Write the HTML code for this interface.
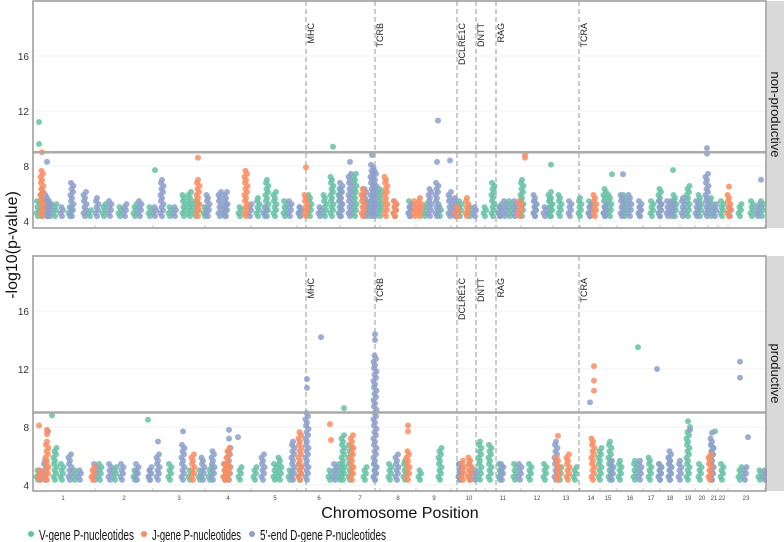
<!DOCTYPE html>
<html><head><meta charset="utf-8"><style>
body{margin:0;background:#fff}
svg{display:block;font-family:"Liberation Sans",sans-serif}
</style></head><body>
<svg id="c" width="784" height="542"></svg>
<script>
// data: positions (0..730 genome units), values -log10(p)
const chromNames=["1","2","3","4","5","6","7","8","9","10","11","12","13","14","15","16","17","18","19","20","21","22","23"];
const chromCenters=[28,89,144,193,240,284,325,363,399,434,468,502,531,556,573,595,616,635,653,667,679,687,711];
const chromBounds=[60,118,170,216,262,305,345,381,416,450,486,518,545,565,582,608,625,645,660,673,683,693,730];
const geneNames=["MHC","TCRB","DCLRE1C","DNTT","RAG","TCRA"];
const genePos=[271,340,422,441,461,544];
const yTicks=[4,8,12,16];
const threshold=9;
// top panel (non-productive): columns [pos, top] and isolated [pos, value]
const topGreenCols=[[3,5.5],[7,6.5],[13,5.5],[20,5.3],[35,5],[55,4.9],[69,5.3],[85,5],[100,5.4],[115,5.2],[135,5.1],[149,5.9],[155,6.1],[161,5.5],[170,5],[190,5.3],[205,5],[223,5.8],[232,7],[240,6.2],[250,5.5],[265,5.2],[275,6],[290,6],[297,7.2],[305,6.5],[320,7.6],[333,5.5],[345,6.5],[360,5.2],[375,5.5],[390,5.3],[405,5],[425,5.5],[435,5.2],[450,5],[458,6.8],[465,5.4],[475,5.6],[487,7],[500,5.5],[515,6.3],[516,5.8],[525,6],[545,5.8],[555,5.5],[570,6.5],[575,6],[590,6],[605,5.2],[617,5.5],[625,6.4],[640,6],[653,6.6],[665,6],[676,5.8],[687,5.5],[705,5.4],[717,5.5],[727,5.5]];
const topGreenPts=[[4,11.2],[4,9.6],[120,7.7],[298,9.4],[516,8.1],[577,7.4],[638,7.7]];
const topOrangeCols=[[7,7.7],[163,7],[211,7.7],[271,5.9],[328,6.5],[351,7.3],[360,5.5],[380,5.5],[385,5.8],[422,5],[432,5.8],[485,5.5],[560,5.9],[694,6]];
const topOrangePts=[[7,9],[163,8.6],[271,7.9],[490,8.8],[490,8.6],[694,6.5]];
const topBlueCols=[[12,6],[15,5.5],[27,5],[37,6.9],[50,6.3],[62,5.8],[75,5.5],[90,5.3],[105,5.5],[120,5],[127,7],[140,5],[173,6],[185,6.2],[191,6.3],[215,5.4],[230,5.2],[255,5.5],[265,5.2],[285,5.2],[306,6.9],[315,7.6],[330,6.5],[337,8.2],[340,7.7],[360,5.5],[375,5.3],[395,6.5],[402,6.8],[415,6.3],[420,5.8],[440,5],[465,5],[470,5.6],[480,5.5],[500,5.9],[510,5.2],[535,5.5],[555,5.4],[570,5.3],[587,6],[595,5.9],[605,5.5],[625,5.5],[633,5.6],[637,5.6],[648,5.8],[662,5.5],[672,7.5],[680,5.4],[695,5],[723,5.4]];
const topBluePts=[[12,8.3],[337,8.8],[315,8.3],[403,11.3],[402,8.3],[415,8.4],[672,9.3],[672,8.9],[726,7],[588,7.4]];
// bottom panel (productive)
const botGreenCols=[[3,5.2],[20,6.6],[27,5.5],[40,5],[65,5.5],[80,5.3],[100,5],[115,5],[135,5.6],[155,5],[165,5.2],[175,5.3],[190,5.5],[205,5.3],[220,5.4],[240,5.6],[245,5.9],[255,5],[265,5.5],[295,5],[305,5.5],[308,7.6],[315,6.9],[330,5.4],[340,5.5],[355,5.5],[370,5.8],[385,5],[405,6.7],[425,5.5],[435,5.8],[445,7],[455,6.8],[465,5.6],[480,5.5],[495,5.5],[510,5.6],[525,5.3],[540,5.4],[565,6.6],[575,7],[585,5.8],[600,5.8],[615,6],[625,5.6],[635,6],[653,7.7],[665,5.6],[677,6.8],[687,5.5],[705,5.3],[725,5]];
const botGreenPts=[[17,8.8],[113,8.5],[309,9.3],[603,13.5],[653,8.4],[655,8],[680,7.7]];
const botOrangeCols=[[5,5.2],[12,7],[58,5.3],[158,6.2],[190,5.5],[193,6.6],[265,7.8],[317,7.6],[373,6.5],[428,5.8],[435,6],[523,6],[533,6.2],[558,7.2],[675,6.3]];
const botOrangePts=[[4,8.1],[12,7.5],[12,7.8],[295,8.2],[296,7.1],[373,8.1],[373,7.7],[523,7.4],[559,10.5],[559,11.2],[559,12.2]];
const botBlueCols=[[5,5.2],[10,5.8],[35,6.2],[45,5],[60,5.5],[75,5.5],[87,5.6],[102,5.6],[115,5.3],[123,6.3],[148,6.9],[168,5.9],[178,6.5],[194,6.6],[228,6.3],[258,7.1],[272,9],[300,5.5],[340,13],[362,6.1],[425,5.5],[440,5],[467,5.5],[485,5.5],[521,7.1],[577,5.8],[605,5.8],[625,5.6],[635,6.5],[645,5.8],[677,7.3],[710,5.3],[730,5]];
const botBluePts=[[13,7.7],[123,7],[148,7.7],[194,7.8],[194,7.2],[203,7.3],[272,10.7],[272,11.3],[286,14.2],[340,14],[340,14.4],[555,9.7],[622,12],[655,7.8],[677,7.6],[705,12.5],[705,11.4],[713,7.3]];

const NS="http://www.w3.org/2000/svg";
const svg=document.getElementById('c');
function mk(tag,attrs,parent){const e=document.createElementNS(NS,tag);for(const k in attrs)e.setAttribute(k,attrs[k]);(parent||svg).appendChild(e);return e;}
const X0=35,PL=33,PR=766;
function xs(p){return X0+p;}
const panels=[{top:1,bot:228,y4:221,k:13.75,label:"non-productive",
  g:[topGreenCols,topGreenPts],o:[topOrangeCols,topOrangePts],b:[topBlueCols,topBluePts]},
 {top:256,bot:491,y4:485,k:14.5,label:"productive",
  g:[botGreenCols,botGreenPts],o:[botOrangeCols,botOrangePts],b:[botBlueCols,botBluePts]}];
const colors={g:"#66c2a5",o:"#fc8d62",b:"#8da0cb"};
const jit=[0,-1.5,1,-0.5,1.5,-1];

panels.forEach((P,pi)=>{
  const ys=v=>P.y4-(v-4)*P.k;
  const grp=mk('g',{});
  
  
  yTicks.forEach(t=>{
    const l=mk('line',{x1:PL,x2:PR,y1:ys(t),y2:ys(t),stroke:"#ebebeb","stroke-width":0.8},grp);
    
    
    const tx=mk('text',{x:29,y:ys(t)+4,"text-anchor":"end","font-size":10,fill:"#333"},grp);
    tx.textContent=t;
    
    
  });
  chromBounds.forEach(b=>{
    const l=mk('line',{x1:xs(b),x2:xs(b),y1:P.bot-3,y2:P.bot,stroke:"#bbb","stroke-width":0.8},grp);
    
    
  });
  genePos.forEach((gp,i)=>{
    const l=mk('line',{x1:xs(gp),x2:xs(gp),y1:P.top,y2:P.bot,stroke:"#999","stroke-width":1,"stroke-dasharray":"5,3"},grp);
    
    
    const tx=mk('text',{x:0,y:0,"text-anchor":"end","font-size":9,fill:"#222",transform:`translate(${xs(gp)+8},${P.top+22}) rotate(-90)`},grp);
    tx.textContent=geneNames[i];
    
    
  });
  ['g','b','o'].forEach(s=>{
    const [cols,pts]=P[s];
    cols.forEach(([p,top])=>{
      let i=0;
      for(let v=4.35;v<=top+0.01;v+=0.22){
        const c=mk('circle',{cx:xs(p)+jit[i%6],cy:ys(v),r:3,fill:colors[s],"fill-opacity":0.85},grp);
        
        
        i++;
      }
    });
    pts.forEach(([p,v])=>{
      const c=mk('circle',{cx:xs(p),cy:ys(v),r:3,fill:colors[s],"fill-opacity":0.85},grp);
      
      
    });
  });
  const th=mk('line',{x1:PL,x2:PR,y1:ys(threshold),y2:ys(threshold),stroke:"#aaa","stroke-width":2.5},grp);
  
  
  const fr=mk('rect',{x:PL,y:P.top,width:PR-PL,height:P.bot-P.top,fill:"none",stroke:"#999","stroke-width":1.5},grp);
  
  
  const st=mk('rect',{x:PR+1,y:P.top,width:784-PR-1,height:P.bot-P.top,fill:"#d9d9d9"},grp);
  
  
  const sl=mk('text',{x:0,y:0,"text-anchor":"middle","font-size":13,fill:"#1a1a1a",transform:`translate(${PR+5},${(P.top+P.bot)/2}) rotate(90)`},grp);
  sl.textContent=P.label;
  
  
});
chromNames.forEach((n,i)=>{
  const t=mk('text',{x:xs(chromCenters[i]),y:500,"text-anchor":"middle","font-size":6,fill:"#444"});
  t.textContent=n;
  
  
});
const xt=mk('text',{x:400,y:518,"text-anchor":"middle","font-size":16,fill:"#111"});
xt.textContent="Chromosome Position";


const yt=mk('text',{x:0,y:0,"text-anchor":"middle","font-size":16,fill:"#111",transform:"translate(17,245) rotate(-90)"});
yt.textContent="-log10(p-value)";


const leg=[["V-gene P-nucleotides","g",30,95],["J-gene P-nucleotides","o",143,89],["5'-end D-gene P-nucleotides","b",251,126]];
leg.forEach(([lab,s,x,w])=>{
  const c=mk('circle',{cx:x+1,cy:534,r:3,fill:colors[s]});
  
  
  const t=mk('text',{x:x+9,y:540,"font-size":15,fill:"#111",textLength:w,lengthAdjust:"spacingAndGlyphs"});
  t.textContent=lab;
  
  
});
</script>
</body></html>
